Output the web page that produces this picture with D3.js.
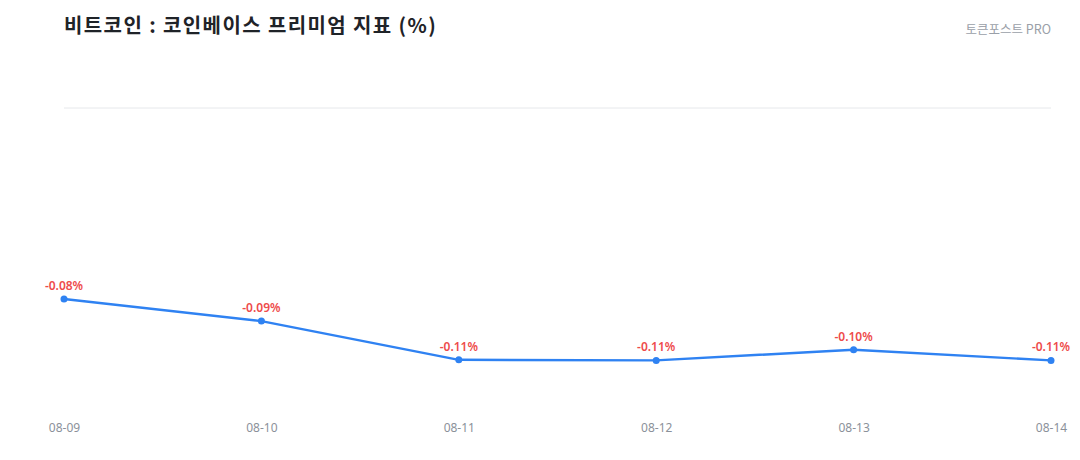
<!DOCTYPE html>
<html>
<head>
<meta charset="utf-8">
<script src="https://cdn.jsdelivr.net/npm/d3@7"></script>
<style>
  html, body { margin: 0; padding: 0; background: #fff; }
  svg { display: block; font-family: "Noto Sans CJK KR", "Noto Sans", sans-serif; }
</style>
</head>
<body>
<svg id="chart" width="1080" height="460"></svg>
<script>
const titleText = "비트코인 : 코인베이스 프리미엄 지표 (%)";
const sourceText = "토큰포스트 PRO";
const dates = ["08-09", "08-10", "08-11", "08-12", "08-13", "08-14"];
const premium = [-0.0786, -0.0900, -0.1100, -0.1103, -0.1048, -0.1103];
const yDomain = [-0.12, 0.02];

(function () {
const svg = d3.select("#chart");
const mLeft = 64, mRight = 1051, mTop = 108;
const mBottom = mTop + (yDomain[1] - yDomain[0]) * 1937;

const x = d3.scalePoint().domain(dates).range([mLeft, mRight]);
const y = d3.scaleLinear().domain(yDomain).range([mBottom, mTop]);

svg.append("text")
  .attr("x", 64).attr("y", 33)
  .attr("font-size", 20).attr("font-weight", 700)
  .attr("letter-spacing", 1.4)
  .attr("fill", "#1f2328")
  .text(titleText);

svg.append("text")
  .attr("x", 1051).attr("y", 34)
  .attr("text-anchor", "end")
  .attr("font-size", 12.5)
  .attr("fill", "#9aa0a8")
  .text(sourceText);

svg.append("line")
  .attr("x1", mLeft).attr("x2", mRight)
  .attr("y1", y(yDomain[1])).attr("y2", y(yDomain[1]))
  .attr("stroke", "#e6e8eb").attr("stroke-width", 1);

const xAxis = d3.axisBottom(x).tickSize(0).tickPadding(0);
const gx = svg.append("g").attr("transform", "translate(0,423.5)").call(xAxis);
gx.select(".domain").remove();
gx.selectAll("text")
  .attr("font-family", "'Noto Sans', sans-serif")
  .attr("font-size", 12).attr("fill", "#8b919a");

const data = dates.map((d, i) => ({ d, v: premium[i] }));

svg.append("path")
  .datum(data)
  .attr("fill", "none")
  .attr("stroke", "#2f82f2")
  .attr("stroke-width", 2.4)
  .attr("stroke-linejoin", "round")
  .attr("d", d3.line().x(p => x(p.d)).y(p => y(p.v)));

svg.selectAll("circle.pt").data(data).join("circle")
  .attr("class", "pt")
  .attr("cx", p => x(p.d)).attr("cy", p => y(p.v))
  .attr("r", 3.5).attr("fill", "#2f82f2");

svg.selectAll("text.lbl").data(data).join("text")
  .attr("class", "lbl")
  .attr("x", p => x(p.d)).attr("y", p => y(p.v) - 9)
  .attr("text-anchor", "middle")
  .attr("font-family", "'Noto Sans', sans-serif")
  .attr("font-size", 12).attr("font-weight", 600)
  .attr("fill", "#ee4b4b")
  .text(p => p.v.toFixed(2) + "%");
})();
</script>
</body>
</html>
